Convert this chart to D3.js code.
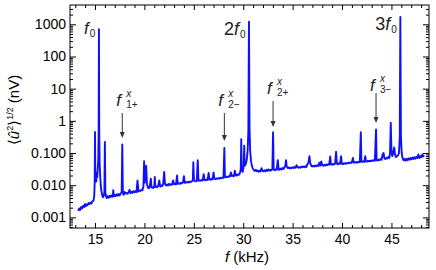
<!DOCTYPE html>
<html><head><meta charset="utf-8">
<script src="https://cdn.jsdelivr.net/npm/d3@7"></script>
<style>
body{margin:0;background:#fff;}
svg{display:block;font-family:"Liberation Sans",Arial,sans-serif;}
</style></head>
<body><svg id="c" width="436" height="270"></svg>
<script>
// [frequency kHz, amplitude nV]
const spectrum = [
[13.30,0.0016],[13.40,0.0019],[13.50,0.0017],[13.60,0.0021],[13.70,0.0019],[13.80,0.0023],[13.90,0.0021],[14.00,0.0026],
[14.05,0.0022],[14.15,0.0025],[14.25,0.0024],[14.35,0.0028],[14.45,0.0026],[14.55,0.0029],[14.65,0.0027],[14.75,0.0032],
[14.85,0.0033],[14.92,0.0045],[14.97,0.012],[15.00,0.45],[15.03,0.015],[15.08,0.02],[15.13,0.013],[15.18,0.025],
[15.23,0.018],[15.28,0.035],[15.33,0.06],[15.37,0.5],[15.40,700],[15.43,0.4],[15.47,0.05],[15.52,0.02],[15.58,0.01],
[15.65,0.0065],[15.72,0.005],[15.80,0.0042],[15.88,0.0046],[15.95,0.006],[16.00,0.22],[16.05,0.006],[16.12,0.0045],
[16.20,0.004],[16.30,0.0046],[16.40,0.0041],[16.50,0.0047],[16.60,0.0043],[16.70,0.0049],[16.80,0.0044],[16.85,0.007],
[16.90,0.0045],[17.00,0.005],[17.10,0.0046],[17.20,0.0052],[17.30,0.0047],[17.40,0.0053],[17.50,0.0048],[17.60,0.0056],
[17.70,0.006],[17.76,0.185],[17.82,0.0058],[17.90,0.005],[18.00,0.0062],[18.10,0.0055],[18.20,0.0058],[18.30,0.0054],
[18.40,0.006],[18.50,0.0072],[18.60,0.0056],[18.70,0.0062],[18.80,0.0058],[18.90,0.0066],[19.00,0.006],[19.10,0.0065],
[19.20,0.0061],[19.30,0.014],[19.40,0.0064],[19.50,0.0068],[19.60,0.0066],[19.70,0.0072],[19.80,0.007],[19.90,0.009],
[19.97,0.056],[20.03,0.012],[20.10,0.03],[20.18,0.04],[20.25,0.011],[20.35,0.0085],[20.45,0.008],[20.55,0.0095],
[20.65,0.016],[20.72,0.0085],[20.80,0.0088],[20.90,0.0082],[21.00,0.009],[21.05,0.018],[21.10,0.0088],[21.20,0.0092],
[21.30,0.0086],[21.40,0.0096],[21.50,0.014],[21.60,0.009],[21.70,0.0098],[21.80,0.0094],[21.90,0.011],[22.00,0.026],
[22.08,0.011],[22.20,0.0098],[22.30,0.0105],[22.40,0.0098],[22.50,0.011],[22.60,0.0102],[22.70,0.0108],[22.80,0.0104],
[22.90,0.014],[23.00,0.0108],[23.10,0.0112],[23.20,0.0106],[23.30,0.02],[23.38,0.011],[23.50,0.0115],[23.60,0.011],
[23.70,0.012],[23.80,0.0114],[23.90,0.0122],[24.00,0.019],[24.08,0.0118],[24.20,0.0125],[24.30,0.012],[24.40,0.0128],
[24.50,0.0122],[24.60,0.013],[24.70,0.0126],[24.80,0.0132],[24.90,0.014],[24.95,0.052],[25.02,0.014],[25.10,0.0135],
[25.20,0.013],[25.30,0.014],[25.40,0.06],[25.47,0.0138],[25.55,0.0142],[25.65,0.0136],[25.80,0.0145],[25.90,0.014],
[26.00,0.022],[26.08,0.0148],[26.20,0.0142],[26.30,0.015],[26.40,0.0145],[26.50,0.024],[26.58,0.0152],[26.70,0.0148],
[26.80,0.0158],[26.90,0.0152],[27.00,0.025],[27.08,0.016],[27.20,0.0155],[27.30,0.0162],[27.40,0.0158],[27.50,0.0166],
[27.60,0.016],[27.70,0.017],[27.80,0.0165],[27.90,0.0175],[28.00,0.017],[28.09,0.145],[28.15,0.018],[28.25,0.0175],
[28.35,0.0185],[28.45,0.018],[28.55,0.019],[28.65,0.0186],[28.75,0.025],[28.85,0.0192],[28.95,0.0198],[29.05,0.019],
[29.15,0.028],[29.25,0.0205],[29.35,0.02],[29.45,0.0215],[29.55,0.021],[29.65,0.023],[29.75,0.03],[29.80,0.27],
[29.85,0.03],[29.95,0.026],[30.05,0.04],[30.10,0.17],[30.15,0.04],[30.25,0.045],[30.35,0.06],[30.45,0.12],
[30.52,0.5],[30.58,1200],[30.64,0.6],[30.70,0.12],[30.78,0.06],[30.86,0.042],[30.95,0.034],[31.05,0.03],
[31.15,0.028],[31.25,0.03],[31.35,0.027],[31.45,0.029],[31.55,0.026],[31.65,0.028],[31.75,0.027],[31.85,0.034],
[31.95,0.028],[32.05,0.027],[32.15,0.029],[32.25,0.027],[32.35,0.03],[32.45,0.028],[32.55,0.031],[32.65,0.028],
[32.75,0.03],[32.85,0.029],[32.95,0.032],[33.02,0.44],[33.08,0.032],[33.18,0.029],[33.28,0.031],[33.38,0.03],
[33.50,0.06],[33.58,0.031],[33.68,0.03],[33.78,0.033],[33.88,0.031],[33.98,0.034],[34.08,0.032],[34.18,0.036],
[34.25,0.04],[34.33,0.06],[34.40,0.038],[34.50,0.034],[34.60,0.036],[34.70,0.033],[34.80,0.035],[34.90,0.034],
[35.00,0.036],[35.10,0.034],[35.20,0.037],[35.30,0.035],[35.40,0.042],[35.50,0.036],[35.60,0.035],[35.70,0.037],
[35.80,0.035],[35.90,0.038],[36.00,0.036],[36.10,0.038],[36.20,0.036],[36.30,0.039],[36.40,0.037],[36.50,0.045],
[36.60,0.05],[36.70,0.08],[36.78,0.05],[36.88,0.04],[36.98,0.038],[37.08,0.04],[37.18,0.038],[37.28,0.041],
[37.38,0.039],[37.50,0.042],[37.60,0.039],[37.70,0.05],[37.80,0.041],[37.90,0.055],[38.00,0.042],[38.10,0.04],
[38.20,0.043],[38.30,0.041],[38.40,0.044],[38.50,0.042],[38.60,0.045],[38.70,0.043],[38.80,0.078],[38.88,0.045],
[38.98,0.043],[39.08,0.046],[39.18,0.044],[39.30,0.047],[39.40,0.11],[39.48,0.047],[39.58,0.045],[39.70,0.048],
[39.80,0.046],[39.90,0.08],[39.98,0.047],[40.08,0.045],[40.20,0.048],[40.30,0.046],[40.40,0.049],[40.50,0.047],
[40.60,0.05],[40.70,0.048],[40.80,0.051],[40.90,0.049],[41.00,0.052],[41.10,0.07],[41.18,0.05],[41.30,0.052],
[41.40,0.05],[41.50,0.053],[41.60,0.051],[41.70,0.054],[41.80,0.052],[41.90,0.44],[41.96,0.054],[42.05,0.053],
[42.15,0.055],[42.25,0.053],[42.35,0.08],[42.42,0.055],[42.52,0.054],[42.62,0.057],[42.72,0.055],[42.82,0.058],
[42.92,0.056],[43.02,0.059],[43.12,0.057],[43.22,0.06],[43.32,0.058],[43.44,0.54],[43.50,0.06],[43.60,0.058],
[43.70,0.062],[43.80,0.06],[43.90,0.065],[44.00,0.062],[44.10,0.09],[44.20,0.1],[44.28,0.07],[44.38,0.065],
[44.48,0.07],[44.58,0.068],[44.68,0.075],[44.78,0.07],[44.86,0.1],[44.93,0.87],[45.00,0.12],[45.08,0.08],
[45.18,0.1],[45.28,0.15],[45.36,0.09],[45.46,0.075],[45.56,0.08],[45.66,0.085],[45.76,0.1],[45.84,0.3],
[45.90,1700],[45.96,0.3],[46.04,0.1],[46.12,0.07],[46.22,0.06],[46.32,0.065],[46.42,0.058],[46.52,0.066],
[46.62,0.06],[46.72,0.068],[46.82,0.062],[46.92,0.07],[47.02,0.064],[47.12,0.072],[47.22,0.065],[47.32,0.074],
[47.42,0.067],[47.52,0.076],[47.62,0.07],[47.72,0.09],[47.82,0.07],[47.92,0.08],[48.02,0.074],[48.12,0.09],
[48.22,0.078],[48.32,0.085]
];
const xTicks = [15,20,25,30,35,40,45];
const yTicks = [0.001,0.01,0.1,1,10,100,1000];
const yTickLabels = ["0.001","0.010","0.100","1","10","100","1000"];
// harmonic labels: prefix, frequency of peak
const harmonics = [
  {pre:"", f:15.4, dx:-15, y:34, size:17},
  {pre:"2", f:30.58, dx:-25, y:35, size:18},
  {pre:"3", f:45.9, dx:-25, y:30, size:18}
];
// sideband labels
const sidebands = [
  {sub:"1+", f:17.76, y:106, a0:113, a1:138},
  {sub:"2\u2212", f:28.09, y:106, a0:113, a1:141},
  {sub:"2+", f:33.02, y:94, a0:101, a1:127},
  {sub:"3\u2212", f:43.44, y:91, a0:93, a1:123}
];

const svg = d3.select("#c");
const L=70,R=429,T=5,B=228;
const x = d3.scaleLinear().domain([12.47,48.8]).range([L,R]);
const y = d3.scaleLog().domain([Math.pow(10,-3.33),Math.pow(10,3.6)]).range([B,T]);

const xMinor = d3.range(13,49,1).filter(v=>!xTicks.includes(v));
const yMinor = [];
for(let e=-4;e<=3;e++) for(let m=2;m<=9;m++){const v=m*Math.pow(10,e); if(v>y.domain()[0]&&v<y.domain()[1]) yMinor.push(v);}

function ax(g){ g.selectAll(".domain").remove(); g.selectAll("line").attr("stroke","#000"); }
svg.append("g").attr("transform",`translate(0,${B})`).call(d3.axisBottom(x).tickValues(xTicks).tickSize(-5).tickPadding(6).tickFormat(d3.format("d")))
  .call(ax).selectAll("text").attr("font-size",14).attr("fill","#000").attr("font-family","Liberation Sans, Arial, sans-serif");
svg.append("g").attr("transform",`translate(0,${B})`).call(d3.axisBottom(x).tickValues(xMinor).tickSize(-3).tickFormat("")).call(ax);
svg.append("g").attr("transform",`translate(0,${T})`).call(d3.axisTop(x).tickValues(xTicks).tickSize(-5).tickFormat("")).call(ax);
svg.append("g").attr("transform",`translate(0,${T})`).call(d3.axisTop(x).tickValues(xMinor).tickSize(-3).tickFormat("")).call(ax);
svg.append("g").attr("transform",`translate(${L},0)`).call(d3.axisLeft(y).tickValues(yTicks).tickSize(-6).tickPadding(4).tickFormat((d,i)=>yTickLabels[i]))
  .call(ax).selectAll("text").attr("font-size",14).attr("fill","#000").attr("font-family","Liberation Sans, Arial, sans-serif");
svg.append("g").attr("transform",`translate(${L},0)`).call(d3.axisLeft(y).tickValues(yMinor).tickSize(-3).tickFormat("")).call(ax);
svg.append("g").attr("transform",`translate(${R},0)`).call(d3.axisRight(y).tickValues(yTicks).tickSize(-6).tickFormat("")).call(ax);
svg.append("g").attr("transform",`translate(${R},0)`).call(d3.axisRight(y).tickValues(yMinor).tickSize(-3).tickFormat("")).call(ax);

svg.append("defs").append("clipPath").attr("id","clip").append("rect").attr("x",L).attr("y",T).attr("width",R-L).attr("height",B-T);

const line = d3.line().x(d=>x(d[0])).y(d=>y(d[1]));
svg.append("path").datum(spectrum).attr("d",line).attr("fill","none").attr("stroke","#1010ff")
  .attr("stroke-width",1.9).attr("stroke-linejoin","round").attr("clip-path","url(#clip)");

svg.append("rect").attr("x",L).attr("y",T).attr("width",R-L).attr("height",B-T).attr("fill","none").attr("stroke","#000").attr("stroke-width",1);

// harmonic labels
harmonics.forEach(h=>{
  const t = svg.append("text").attr("x",x(h.f)+h.dx).attr("y",h.y).attr("fill","#222").attr("font-size",h.size);
  if(h.pre) t.append("tspan").text(h.pre);
  t.append("tspan").attr("font-style","italic").text("f");
  t.append("tspan").attr("font-size",10).attr("dy",3).attr("dx",1).text("0");
});

// sideband labels and arrows
sidebands.forEach(s=>{
  const xp = x(s.f);
  const t = svg.append("text").attr("x",xp-6).attr("y",s.y).attr("fill","#222").attr("font-size",17);
  t.append("tspan").attr("font-style","italic").text("f");
  const xs = xp+4;
  svg.append("text").attr("x",xs).attr("y",s.y-9).attr("fill","#222").attr("font-size",10).attr("font-style","italic").text("x");
  svg.append("text").attr("x",xs).attr("y",s.y+2).attr("fill","#222").attr("font-size",10).text(s.sub);
  svg.append("line").attr("x1",xp).attr("x2",xp).attr("y1",s.a0).attr("y2",s.a1-5).attr("stroke","#333").attr("stroke-width",1);
  svg.append("path").attr("d",`M${xp-2.5},${s.a1-6}L${xp+2.5},${s.a1-6}L${xp},${s.a1}Z`).attr("fill","#333");
});

// axis titles
const xt = svg.append("text").attr("x",247).attr("y",262).attr("text-anchor","middle").attr("font-size",15).attr("fill","#000");
xt.append("tspan").attr("font-style","italic").text("f");
xt.append("tspan").text(" (kHz)");
const yt = svg.append("text").attr("transform","translate(19,110) rotate(-90)").attr("text-anchor","middle").attr("font-size",15).attr("fill","#000");
yt.append("tspan").text("\u27E8");
yt.append("tspan").attr("font-style","italic").text("\u00FB");
yt.append("tspan").attr("font-size",9).attr("dy",-6).text("2");
yt.append("tspan").attr("dy",6).text("\u27E9");
yt.append("tspan").attr("font-size",9).attr("dy",-6).text("1/2");
yt.append("tspan").attr("dy",6).text(" (nV)");
</script></body></html>
